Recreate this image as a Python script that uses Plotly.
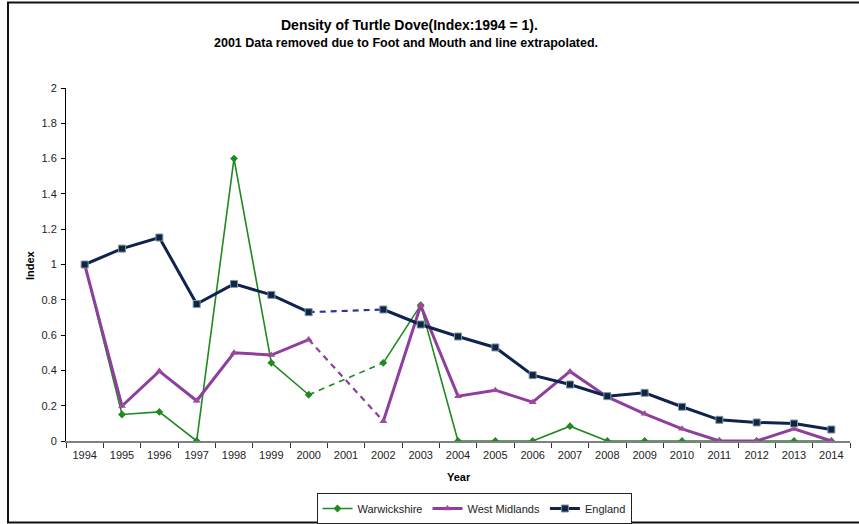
import plotly.graph_objects as go

years = [str(y) for y in range(1994, 2015)]

# Index values per year (2001 has no survey data)
warwickshire = [1.0, 0.15, 0.165, 0.0, 1.6, 0.443, 0.262, None, 0.443, 0.77,
                0.0, 0.0, 0.0, 0.084, 0.0, 0.0, 0.0, 0.0, 0.0, 0.0, 0.0]
west_midlands = [1.0, 0.198, 0.396, 0.228, 0.5, 0.487, 0.575, None, 0.112, 0.768,
                 0.254, 0.288, 0.22, 0.394, 0.25, 0.154, 0.069, 0.0, 0.0, 0.069, 0.0]
england = [1.0, 1.09, 1.153, 0.776, 0.89, 0.828, 0.73, None, 0.745, 0.66,
           0.592, 0.53, 0.373, 0.32, 0.254, 0.273, 0.194, 0.12, 0.105, 0.099, 0.065]

y_ticks = [0, 0.2, 0.4, 0.6, 0.8, 1, 1.2, 1.4, 1.6, 1.8, 2]
y_tick_labels = ["0", "0.2", "0.4", "0.6", "0.8", "1", "1.2", "1.4", "1.6", "1.8", "2"]

GREEN = "#1f8a1f"
PURPLE = "#8e3f9e"
NAVY = "#0f2350"
FONT = "Liberation Sans, Arial, sans-serif"

series = [
    ("Warwickshire", warwickshire, GREEN, 1.6, dict(symbol="diamond", size=6, color=GREEN), GREEN),
    ("West Midlands", west_midlands, PURPLE, 3, dict(symbol="triangle-up", size=7, color="#a0489e"), PURPLE),
    ("England", england, NAVY, 3, dict(symbol="square", size=7, color=NAVY,
                                         line=dict(color="#7f9a8c", width=1)), "#2e3596"),
]

fig = go.Figure()

# Dashed bridges across the missing 2001 value
gap = years.index("2001")
for name, vals, color, width, marker, dash_color in series:
    fig.add_trace(go.Scatter(
        x=[years[gap - 1], years[gap + 1]], y=[vals[gap - 1], vals[gap + 1]],
        mode="lines", line=dict(color=dash_color, width=min(width, 2.2), dash="6px,5px"),
        showlegend=False, hoverinfo="skip"))

for name, vals, color, width, marker, dash_color in series:
    fig.add_trace(go.Scatter(
        x=years, y=vals, name=name, mode="lines+markers",
        line=dict(color=color, width=width), marker=marker,
        connectgaps=False))

# Plot-area geometry in pixels
W, H = 859, 524
L, R, T, B = 66, 850, 88, 441
pw, ph = R - L, B - T


def px_x(p):
    return (p - L) / pw


def px_y(p):
    return (B - p) / ph


# Outer chart-area frame
fig.add_shape(type="rect", xref="paper", yref="paper",
              x0=px_x(8), x1=px_x(866), y0=px_y(522.5), y1=px_y(2.5),
              line=dict(color="#111111", width=2), fillcolor="rgba(0,0,0,0)")


def label(text, x, y, size, angle=0):
    fig.add_annotation(text=text, xref="paper", yref="paper", x=px_x(x), y=px_y(y),
                       xanchor="center", yanchor="middle", showarrow=False, textangle=angle,
                       font=dict(family=FONT, size=size, color="#000"))


label("<b>Density of Turtle Dove(Index:1994 = 1).</b>", 409, 25, 14)
label("<b>2001 Data removed due to Foot and Mouth and line extrapolated.</b>", 406, 43, 12.5)
label("<b>Year</b>", 459, 477, 11)
label("<b>Index</b>", 30, 265, 11, angle=-90)

fig.update_layout(
    width=W, height=H,
    margin=dict(l=L, r=W - R, t=T, b=H - B, autoexpand=False),
    paper_bgcolor="white", plot_bgcolor="white",
    font=dict(family=FONT, size=11, color="#222"),
    showlegend=True,
    legend=dict(orientation="h", xref="container", yref="container",
                x=474 / W, y=1 - 493 / H, xanchor="center", yanchor="top",
                bordercolor="#222", borderwidth=1, font=dict(family=FONT, size=11, color="#222"),
                itemwidth=30, tracegroupgap=0),
    xaxis=dict(type="category", categoryorder="array", categoryarray=years,
               range=[-0.5, len(years) - 0.5], showgrid=False, showline=True,
               linecolor="#808080", linewidth=2, ticks="outside", tickson="boundaries",
               ticklen=5, tickcolor="#333", ticklabelstandoff=3,
               tickfont=dict(family=FONT, size=11, color="#222"), fixedrange=True),
    yaxis=dict(range=[0, 2], tickvals=y_ticks, ticktext=y_tick_labels, showgrid=False,
               zeroline=False, showline=True, linecolor="#000", linewidth=1,
               ticks="outside", ticklen=4, tickcolor="#000", ticklabelstandoff=2,
               tickfont=dict(family=FONT, size=11, color="#222"), fixedrange=True),
)

fig.write_html("out.html")
